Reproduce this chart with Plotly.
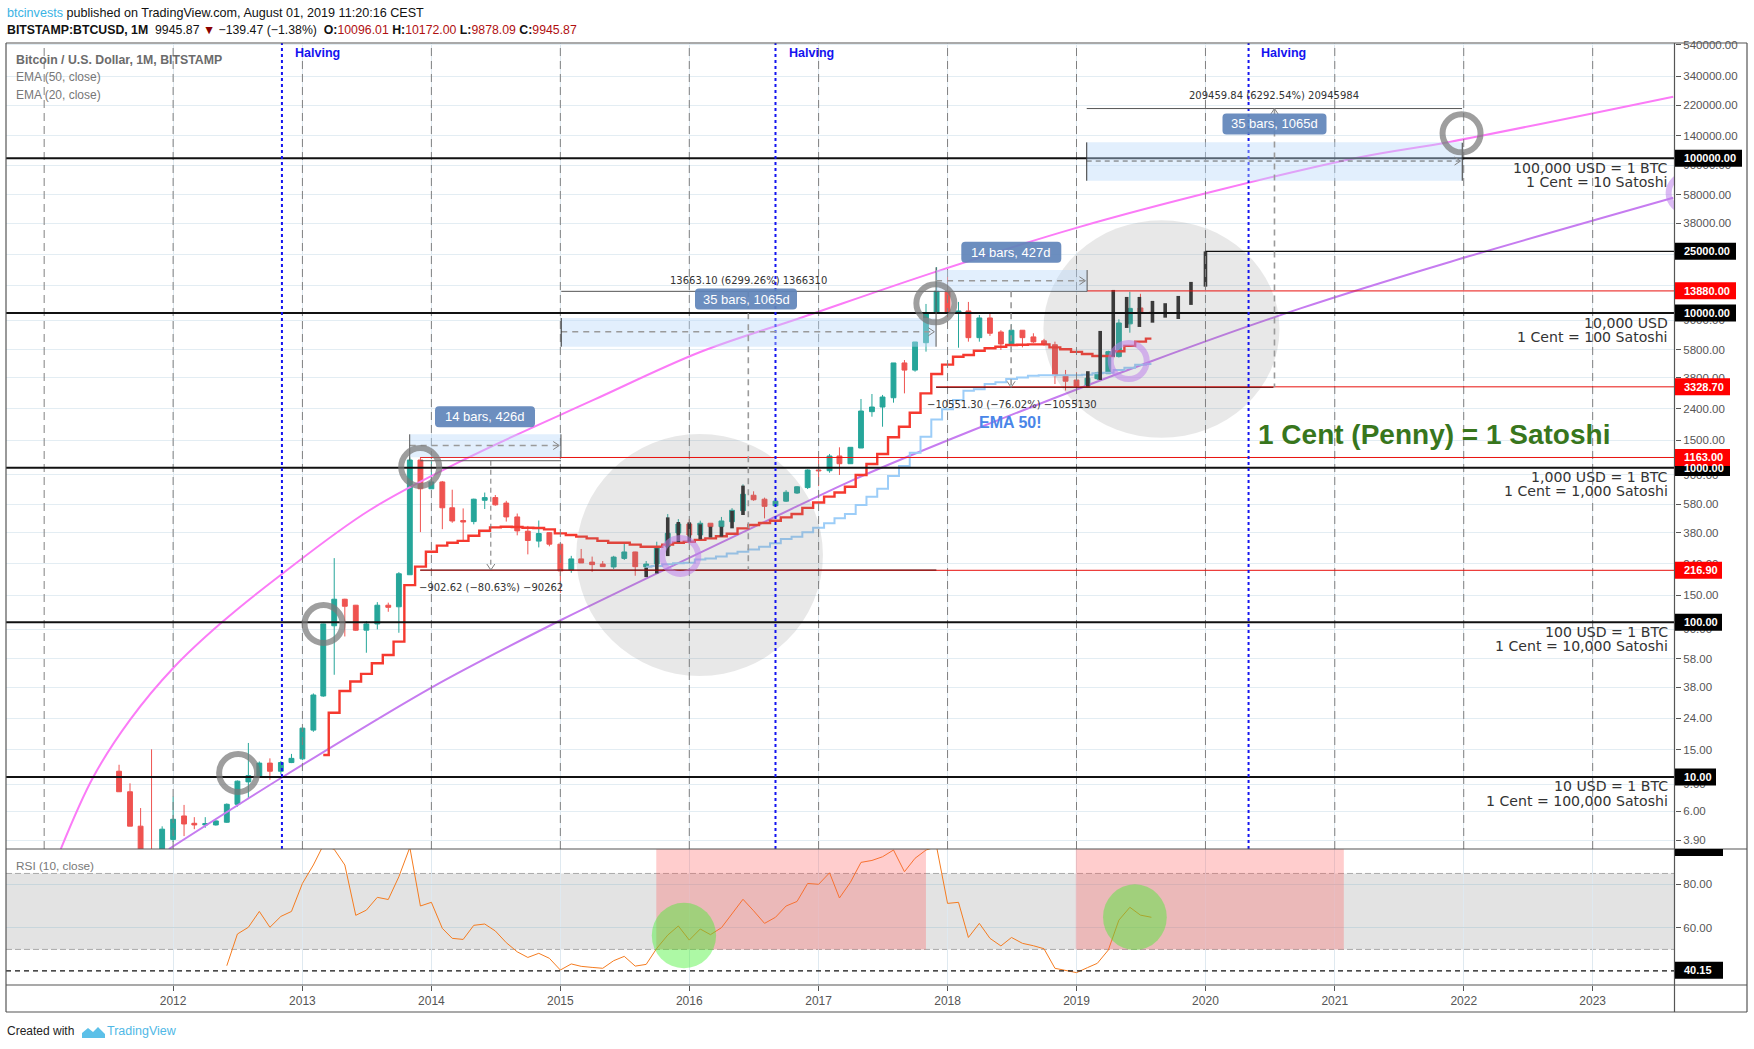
import math
from datetime import datetime, timedelta
import pandas as pd
import plotly.graph_objects as go

# ---------- data ----------
START = "2011-08-01"
opens = [10.9,8.03,4.81,3.2,3.0,
 3.95,5.6,5.02,4.9,4.9,5.1,6.66,9.3,10.05,12.3,10.9,12.4,
 13.1,20.1,33.4,95,141,129,89,97.6,129,126,203,1120,
 730,808,550,455,448,615,640,590,480,388,335,380,
 320,218,257,245,238,228,259,285,228,238,308,378,
 432,367,437,415,447,527,663,625,567,607,685,743,
 965,955,1189,1060,1339,2300,2465,2830,4750,4270,6420,9950,
 13810,9950,10300,6920,9280,7530,6300,7730,7000,6600,6230,3950,
 3684,3370,3760,4050,5220,8500,10770,10096.01]
highs = [12.0,9.1,6.3,15.1,4.8,
 7.46,6.6,5.5,5.5,5.25,6.75,9.5,16.6,12.6,13.2,12.7,14.1,
 20.9,34.7,98,260,142,129.5,102,135,134,211,1163,1163,
 1100,820,720,545,630,690,665,610,505,420,455,383,
 322,269,298,266,249,269,322,286,249,332,501,465,
 464,454,437,480,547,780,703,640,640,715,760,975,
 1131,1225,1353,1353,2778,2992,2950,4750,4960,6490,11430,19760,
 17350,11780,11780,9700,9850,7730,8440,7750,7390,6800,6520,4280,
 4135,4165,4165,5700,9100,13700,13300,10172.00]
lows = [8.0,4.81,3.2,2.3,2.9,
 3.8,4.15,4.6,4.7,4.85,5.05,6.43,7.2,9.9,9.6,10.4,12.3,
 12.9,19.6,33,45.8,81,88,63.6,90,117,85.6,203,383,
 730,400,440,340,430,540,567,448,365,275,305,310,
 155,209,242,212,229,221,253,200,226,235,300,352,
 332,371,358,415,436,501,610,470,562,600,676,727,
 760,927,896,1055,1339,2133,1838,2630,3020,4170,5620,9950,
 9380,5960,6520,6520,7100,5760,6200,5990,6400,6150,3470,3150,
 3330,3340,3690,4050,5150,7450,8150,9878.09]
closes = [8.03,4.81,3.2,3.0,4.6,
 5.33,4.97,4.9,5.0,5.2,6.66,9.4,10.2,12.3,10.9,12.4,13.2,
 20.7,33.9,97.6,141,127,88.9,97.6,129,125,206,1120,730,
 808,550,452,445,625,640,575,480,390,338,375,320,
 215,257,242,236,229,264,285,229,238,305,376,432,
 367,437,415,452,530,673,620,562,607,693,752,965,
 955,1189,1060,1353,2322,2465,2860,4750,4270,6490,10000,13810,
 9950,10300,6920,9280,7390,6300,7730,6920,6500,6250,3930,3620,
 3370,3785,4110,5620,8610,10700,10100,9945.87]

ema20_start = "2013-03-01"
ema20 = [13.87,26,36,41.4,46.4,54.4,61.5,75,174,229,
 286,313,327,336,363,391,411,415,413,409,407,399,
 376,367,358,349,336,327,327,318,308,308,318,327,
 332,341,349,360,374,405,426,439,454,477,501,549,
 595,649,690,752,896,1055,1224,1570,1838,2265,3020,4030,
 4630,5210,5350,5700,5910,6050,6200,6230,6260,6260,5990,5820,
 5600,5430,5270,5270,5650,6120,6520,6820]
ema50_start = "2015-09-01"
ema50 = [229,231,237,241,
 243,255,259,266,279,286,296,308,324,346,358,382,
 409,437,471,501,574,649,730,882,1024,1248,1584,2050,
 2380,2740,3140,3210,3470,3560,3740,3820,3930,3950,3950,3950,
 3950,3990,4070,4110,4270,4420,4630,4680]

rsi_start = "2012-06-01"
rsi = [42.5,57.1,60.2,67.5,60.2,65.2,67.5,
 80.4,88.9,98,96.1,88.9,65.7,68.1,74,73,83.5,97,70,
 71.7,59.7,55.1,54.6,61.1,61.7,58.5,53.1,48.9,46.3,48.2,45.9,
 40.5,43.3,42.2,41.7,41.3,44.8,46.8,42.3,43.1,50.5,56.6,60.8,
 54.3,59.4,56.8,60,66.6,73.1,67.8,62,64.8,70,72.1,80.4,
 80,85.3,73.7,80.9,90.1,91,92.7,95.8,85.8,92,95.8,97.3,
 71.2,71.7,55.5,62,55.1,51.6,55.5,52.8,51.7,50.3,41.3,40.3,
 39.3,41.6,43.6,49.7,63.5,69.4,65.8,64.8]

ghost1_dates = ["2015-09-01","2015-10-01","2015-11-01","2015-12-01","2016-01-01",
                "2016-02-01","2016-03-01","2016-04-01","2016-05-01","2016-06-01"]
ghost1_hi = [225,301,477,445,443,430,415,415,525,765]
ghost1_lo = [196,207,268,330,332,344,354,358,405,494]
ghost2_dates = ["2019-02-02","2019-03-09","2019-04-15","2019-05-23","2019-06-28",
                "2019-08-04","2019-09-09","2019-10-16","2019-11-21","2020-01-01"]
ghost2_hi = [4200,7650,14080,12690,12690,11960,11560,12880,15870,25000]
ghost2_lo = [3310,3684,5220,8000,8120,8650,9320,9140,11270,14790]

magenta_dates = ["2011-02-17","2011-05-20","2011-09-01","2012-01-04","2012-05-18","2012-11-06",
 "2013-07-11","2014-04-13","2015-04-05","2016-02-01","2016-11-10","2017-11-30","2019-01-03",
 "2020-02-11","2021-03-13","2021-11-25","2023-08-17"]
magenta_vals = [3.42,10,23.4,51.4,100,207,532,1154,2738,5590,9280,18500,35600,62500,101500,128000,250000]
purple_dates = ["2011-12-20","2012-11-06","2014-01-05","2015-01-03","2016-09-01","2017-04-08",
 "2018-03-15","2019-07-28","2020-09-26","2021-11-25","2023-08-17"]
purple_vals = [3.42,10,38.3,103.5,482,831,1750,4840,10700,21450,55500]

price_ticks = [3.9,6,9,15,24,38,58,90,150,240,380,580,900,1500,2400,3800,5800,9000,15000,24000,
               38000,58000,90000,140000,220000,340000,540000]
year_ticks = list(range(2012, 2024))
halvings = ["2012-11-04","2016-09-01","2020-05-02"]
black_levels = [100000,10000,1000,100,10]
red_levels = [13880,3328.7,1163,216.9]

# ---------- frame geometry ----------
W, H = 1754, 1049
L, R, T, B, PB = 6, 1675, 43, 985, 849   # plot left/right/top/bottom and price pane bottom

def py(v):
    return 931.7 - 154.7 * math.log10(v)
def dy(p):
    return 10 ** ((931.7 - p) / 154.7)
def dx(p):
    d = datetime(2012, 1, 1) + timedelta(days=(p - 173) / 129 * 365.25)
    return d.strftime("%Y-%m-%d %H:%M")
def xf(p):
    return (p - L) / (R - L)
def yf(p):
    return (B - p) / (B - T)

dates = pd.date_range(START, periods=len(opens), freq="MS")

fig = go.Figure()
fig.add_trace(go.Candlestick(x=dates, open=opens, high=highs, low=lows, close=closes,
    increasing=dict(line=dict(color="#26a69a", width=1), fillcolor="#26a69a"),
    decreasing=dict(line=dict(color="#ef5350", width=1), fillcolor="#ef5350"),
    whiskerwidth=0, xaxis="x", yaxis="y", showlegend=False))
fig.add_trace(go.Scatter(x=magenta_dates, y=magenta_vals, mode="lines", line=dict(color="#fb7bf7", width=2, shape="spline", smoothing=1.0)))
fig.add_trace(go.Scatter(x=purple_dates, y=purple_vals, mode="lines", line=dict(color="#c67cf0", width=2, shape="spline", smoothing=0.8)))
fig.add_trace(go.Scatter(x=pd.date_range(ema50_start, periods=len(ema50), freq="MS"), y=ema50, mode="lines",
                         line=dict(color="#9ccdf8", width=2, shape="hvh")))
fig.add_trace(go.Scatter(x=pd.date_range(ema20_start, periods=len(ema20), freq="MS"), y=ema20, mode="lines",
                         line=dict(color="#f5392f", width=2.4, shape="hvh")))
for ds, hi, lo in [(ghost1_dates, ghost1_hi, ghost1_lo), (ghost2_dates, ghost2_hi, ghost2_lo)]:
    gx, gy = [], []
    for d, h, l in zip(ds, hi, lo):
        gx += [d, d, None]
        gy += [l, h, None]
    fig.add_trace(go.Scatter(x=gx, y=gy, mode="lines", line=dict(color="#2b2b2b", width=3.6)))
fig.add_trace(go.Scatter(x=pd.date_range(rsi_start, periods=len(rsi), freq="MS"), y=rsi, mode="lines",
                         line=dict(color="#f57c20", width=1), xaxis="x", yaxis="y2"))

shapes = []
annos = []

def dline(x0, y0, x1, y1, color="#555", width=1, dash=None, layer="above"):
    shapes.append(dict(type="line", xref="x", yref="y", x0=dx(x0), x1=dx(x1), y0=dy(y0), y1=dy(y1), layer=layer,
                       line=dict(color=color, width=width, dash=dash or "solid")))
def drect(x0, y0, x1, y1, fill, layer="above"):
    shapes.append(dict(type="rect", xref="x", yref="y", x0=dx(x0), x1=dx(x1), y0=dy(y0), y1=dy(y1), layer=layer,
                       fillcolor=fill, line=dict(width=0)))
def dcircle(cx, cy, rx, ry, fill=None, line=None, width=0):
    s = dict(type="circle", xref="x", yref="y", x0=dx(cx-rx), x1=dx(cx+rx), y0=dy(cy+ry), y1=dy(cy-ry), layer="above")
    if fill: s["fillcolor"] = fill
    s["line"] = dict(color=line, width=width) if line else dict(width=0)
    shapes.append(s)
def pline(x0, y0, x1, y1, color="#555", width=1):
    shapes.append(dict(type="line", xref="paper", yref="paper", x0=xf(x0), x1=xf(x1), y0=yf(y0), y1=yf(y1), layer="above",
                       line=dict(color=color, width=width)))
def prect(x0, y0, x1, y1, fill):
    shapes.append(dict(type="rect", xref="paper", yref="paper", x0=xf(x0), x1=xf(x1), y0=yf(y0), y1=yf(y1), layer="above",
                       fillcolor=fill, line=dict(width=0)))
def text(x, y, t, size=12, color="#000", anchor="center", family="Liberation Sans", bg=None):
    a = dict(xref="paper", yref="paper", x=xf(x), y=yf(y), text=t, showarrow=False, xanchor=anchor, yanchor="middle",
             font=dict(size=size, color=color, family=family), borderpad=0)
    if bg: a["bgcolor"] = bg
    annos.append(a)
def round_label(cx, cy, w, h, t):
    r = 4
    x0, x1, y0, y1 = cx-w/2, cx+w/2, cy-h/2, cy+h/2
    pts = [f"M {xf(x0+r)} {yf(y0)}", f"L {xf(x1-r)} {yf(y0)}", f"Q {xf(x1)} {yf(y0)} {xf(x1)} {yf(y0+r)}",
           f"L {xf(x1)} {yf(y1-r)}", f"Q {xf(x1)} {yf(y1)} {xf(x1-r)} {yf(y1)}", f"L {xf(x0+r)} {yf(y1)}",
           f"Q {xf(x0)} {yf(y1)} {xf(x0)} {yf(y1-r)}", f"L {xf(x0)} {yf(y0+r)}", f"Q {xf(x0)} {yf(y0)} {xf(x0+r)} {yf(y0)} Z"]
    shapes.append(dict(type="path", xref="paper", yref="paper", path=" ".join(pts), fillcolor="rgba(96,132,186,0.92)",
                       line=dict(width=0), layer="above"))
    text(cx, cy, t, 13, "#ffffff")
def chevron(x, y, d):
    c, w = "#808080", 1
    if d == "r":
        dline(x-6, y-4, x, y, c, w); dline(x-6, y+4, x, y, c, w)
    elif d == "d":
        dline(x-4, y-6, x, y, c, w); dline(x+4, y-6, x, y, c, w)
    else:
        dline(x-4, y+6, x, y, c, w); dline(x+4, y+6, x, y, c, w)

# dashed yearly verticals, price pane only
for yr in range(2011, 2024):
    shapes.append(dict(type="line", xref="x", yref="y domain", x0=f"{yr}-01-01", x1=f"{yr}-01-01", y0=0, y1=1, layer="above",
                       line=dict(color="#808080", width=1, dash="8px,5px")))

# large grey discs
dcircle(699.3, 555, 123.3, 121, fill="rgba(128,128,128,0.18)")
dcircle(1161, 329, 118, 108.7, fill="rgba(128,128,128,0.18)")

# levels
for v in black_levels:
    shapes.append(dict(type="line", xref="paper", yref="y", x0=0, x1=1, y0=v, y1=v, layer="above", line=dict(color="#111", width=2)))
for v, x0 in zip(red_levels, [1086.7, 935.7, 420, 420]):
    shapes.append(dict(type="line", xref="x", yref="y", x0=dx(x0), x1=dx(R), y0=v, y1=v, layer="above", line=dict(color="#e8100c", width=1)))
shapes.append(dict(type="line", xref="x", yref="y", x0="2020-01-01", x1=dx(R), y0=25000, y1=25000, layer="above", line=dict(color="#111", width=1.3)))

# halving lines
for h in halvings:
    shapes.append(dict(type="line", xref="x", yref="y domain", x0=h, x1=h, y0=0, y1=1, layer="above",
                       line=dict(color="#1414f0", width=2, dash="3px,3px")))
for x in (317, 811, 1283):
    text(x, 53, "<b>Halving</b>", 12.5, "#1414f0")

# measurement boxes
BOX = "rgba(187,217,251,0.42)"
drect(409.5, 434.3, 560.7, 457.3, BOX)
dline(409.5, 445.5, 558, 445.5, "#9a9a9a", 1.6, "6px,5px"); chevron(559, 445.5, "r")
dline(409.5, 434.3, 409.5, 460.7); dline(560.7, 434.3, 560.7, 457.3)
dline(420, 460.7, 560.7, 460.7); dline(420, 570, 561, 570, "#5a2525")
dline(490.6, 460.7, 490.6, 570, "#777", 1, "5px,4px"); chevron(490.6, 570, "d")
round_label(485, 416.7, 100, 21, "14 bars, 426d")
text(491, 587.7, "−902.62 (−80.63%) −90262", 10, "#333", family="DejaVu Sans")

drect(561, 318, 935.7, 346.7, BOX)
dline(561, 331.7, 933, 331.7, "#9a9a9a", 1.6, "6px,5px"); chevron(934, 331.7, "r")
dline(561, 291.3, 1086.7, 291.3); dline(935.7, 267.3, 935.7, 346.7); dline(561, 318, 561, 346.7, "#333")
dline(561, 570, 936, 570, "#5a0808")
dline(748, 291.3, 748, 570, "#9a9a9a", 1.6, "6px,5px")
round_label(746, 299, 102, 21, "35 bars, 1065d")
text(748, 280, "13663.10 (6299.26%) 1366310", 10, "#333", family="DejaVu Sans")

drect(935.7, 270, 1086.7, 291.3, BOX)
dline(935.7, 280.7, 1084, 280.7, "#9a9a9a", 1.6, "6px,5px"); chevron(1085, 280.7, "r")
dline(1086.7, 270, 1086.7, 291.3)
dline(935.7, 387.3, 1273, 387.3, "#5a0808")
dline(1010.7, 291.3, 1010.7, 387.3, "#9a9a9a", 1.6, "6px,5px"); chevron(1010.7, 387.3, "d")
round_label(1011.3, 252.3, 100, 21, "14 bars, 427d")
text(1011.7, 404.3, "−10551.30 (−76.02%) −1055130", 10, "#333", family="DejaVu Sans")

drect(1086.3, 142.3, 1461.7, 180.7, BOX)
dline(1086.3, 161, 1459, 161, "#666", 1, "5px,4px"); chevron(1460, 161, "r")
dline(1086.3, 108.5, 1461.5, 108.5); dline(1086.3, 142.3, 1086.3, 180.7, "#333"); dline(1461.7, 142.7, 1461.7, 180.7, "#333")
dline(1274, 108.5, 1274, 387.3, "#9a9a9a", 1.6, "6px,5px"); chevron(1274, 108.5, "u")
round_label(1274.5, 124, 104, 21, "35 bars, 1065d")
text(1274, 96, "209459.84 (6292.54%) 20945984", 10, "#333", family="DejaVu Sans")

# rings
for cx, cy in [(238, 773), (323.4, 624), (420, 467), (935, 303.3), (1461, 133.3)]:
    dcircle(cx, cy, 19, 19, line="rgba(120,120,120,0.72)", width=6)
for cx, cy in [(680, 556), (1128.3, 361), (1686, 193)]:
    dcircle(cx, cy, 18, 18, line="rgba(190,130,235,0.55)", width=6)

# RSI pane decoration
def rsi_rect(x0, x1, v0, v1, fill):
    shapes.append(dict(type="rect", xref="x", yref="y2", x0=x0, x1=x1, y0=v0, y1=v1, fillcolor=fill, line=dict(width=0), layer="above"))
shapes.append(dict(type="rect", xref="paper", yref="y2", x0=0, x1=1, y0=50, y1=85, fillcolor="rgba(128,128,128,0.22)", line=dict(width=0), layer="below"))
for v in (50, 85):
    shapes.append(dict(type="line", xref="paper", yref="y2", x0=0, x1=1, y0=v, y1=v, layer="below", line=dict(color="#aaaaaa", width=1, dash="6px,3px")))
shapes.append(dict(type="line", xref="paper", yref="y2", x0=0, x1=1, y0=40.15, y1=40.15, layer="above", line=dict(color="#111", width=1.3, dash="5px,4px")))
rsi_rect(dx(656), dx(925.6), 50, 96.27, "rgba(255,90,90,0.30)")
rsi_rect(dx(1075.4), dx(1343.3), 50, 96.27, "rgba(255,90,90,0.30)")
for x0, x1, y0, y1 in [(651.5, 715.8, 902.7, 968.3), (1102.6, 1166.3, 884.3, 950)]:
    shapes.append(dict(type="circle", xref="x", yref="y2", x0=dx(x0), x1=dx(x1),
                       y0=60 + (927.7 - y1) / 2.17, y1=60 + (927.7 - y0) / 2.17, fillcolor="rgba(60,240,40,0.42)", line=dict(width=0), layer="above"))

# frames
for x0, y0, x1, y1 in [(L, T, 1747, T), (L, T, L, 1012), (L, 1012, 1747, 1012), (1747, T, 1747, 1012), (1674.5, T, 1674.5, 1012),
                       (L, PB, 1747, PB), (L, B, 1747, B)]:
    pline(x0, y0, x1, y1, "#555555", 1.2)

# right-axis value labels
labels = [(100000, "100000.00", "#000", 1742), (25000, "25000.00", "#000", 1736), (10000, "10000.00", "#000", 1736),
          (1000, "1000.00", "#000", 1730), (100, "100.00", "#000", 1722), (10, "10.00", "#000", 1716),
          (13880, "13880.00", "#f00", 1736), (3328.7, "3328.70", "#f00", 1730), (1163, "1163.00", "#f00", 1730),
          (216.9, "216.90", "#f00", 1722)]
for v, t, c, x1 in labels:
    y = py(v)
    prect(1675, y - 8.5, x1, y + 8.5, c)
    text(1682.5, y, f"<b>{t}</b>", 11, "#ffffff", anchor="left", family="Liberation Sans")
yr = 970.3
prect(1675, yr - 8.5, 1723, yr + 8.5, "#000")
text(1682.5, yr, "<b>40.15</b>", 11, "#ffffff", anchor="left")
prect(1675, 849, 1723, 856, "#000")

# texts
HDR = "Liberation Sans"
text(6, 13, '<span style="color:#3bb3e4">btcinvests</span> published on TradingView.com, August 01, 2019 11:20:16 CEST', 12.6, "#111", anchor="left", family=HDR)
text(6, 30, '<b>BITSTAMP:BTCUSD, 1M</b>  9945.87 <span style="color:#8b0000">▼</span> −139.47 (−1.38%)  <b>O:</b><span style="color:#b01010">10096.01</span> '
     '<b>H:</b><span style="color:#b01010">10172.00</span> <b>L:</b><span style="color:#b01010">9878.09</span> <b>C:</b><span style="color:#b01010">9945.87</span>',
     12.3, "#111", anchor="left", family=HDR)
text(15, 60, "<b>Bitcoin / U.S. Dollar, 1M, BITSTAMP</b>", 12.3, "#6b6b6b", anchor="left")
text(15, 77, "EMA (50, close)", 12, "#777", anchor="left")
text(15, 95, "EMA (20, close)", 12, "#777", anchor="left")
text(15, 866, "RSI (10, close)", 11.8, "#777", anchor="left")
text(1434, 434, "<b>1 Cent (Penny) = 1 Satoshi</b>", 28, "#38761d")
text(1010, 422, "<b>EMA 50!</b>", 16, "#4a86e8")
notes = [(168, "100,000 USD = 1 BTC"), (182, "1 Cent = 10 Satoshi"), (323, "10,000 USD"), (337, "1 Cent = 100 Satoshi"),
         (476.7, "1,000 USD = 1 BTC"), (491, "1 Cent = 1,000 Satoshi"), (632, "100 USD = 1 BTC"), (645.5, "1 Cent = 10,000 Satoshi"),
         (786.4, "10 USD = 1 BTC"), (801, "1 Cent = 100,000 Satoshi")]
for y, t in notes:
    text(1669, y, t, 14.1, "#333", anchor="right", family="DejaVu Sans")
text(6, 1031, "Created with", 12, "#222", anchor="left")
text(106, 1031, "TradingView", 12.5, "#4fb8e6", anchor="left")
logo = [(82,1038),(82,1033),(88,1028),(93,1032),(98,1027),(105,1034),(105,1038)]
shapes.append(dict(type="path", xref="paper", yref="paper", fillcolor="#5cc0e8", line=dict(width=0), layer="above",
    path="M " + " L ".join(f"{xf(a)} {yf(b)}" for a, b in logo) + " Z"))

fig.update_layout(
    width=W, height=H, margin=dict(l=L, r=W-R, t=T, b=H-B, pad=0),
    paper_bgcolor="#ffffff", plot_bgcolor="#ffffff", showlegend=False, font=dict(family="Liberation Sans", color="#555"),
    xaxis=dict(type="date", range=["2010-09-15", "2023-08-22"], anchor="y2", domain=[0, 1], rangeslider=dict(visible=False),
               tickvals=[f"{y}-01-01" for y in year_ticks], ticktext=[str(y) for y in year_ticks],
               showgrid=True, gridcolor="#dfe9f0", gridwidth=1, ticks="outside", ticklen=5, tickcolor="#555",
               tickfont=dict(size=12, color="#555"), zeroline=False, showline=False),
    yaxis=dict(type="log", range=[0.5346, 5.745], domain=[(B-PB)/(B-T), 1], anchor="x", side="right",
               tickvals=price_ticks, ticktext=["" if v in (15000, 24000) else f"{v:.2f}" for v in price_ticks],
               showgrid=True, gridcolor="#e3edf3", gridwidth=1, ticks="outside", ticklen=5, tickcolor="#555",
               tickfont=dict(size=11.5, color="#555"), zeroline=False, showline=False),
    yaxis2=dict(range=[33.6, 96.27], domain=[0, (B-PB)/(B-T)], anchor="x", side="right",
                tickvals=[60, 80], ticktext=["60.00", "80.00"], showgrid=True, gridcolor="#c8d6dc", gridwidth=1,
                ticks="outside", ticklen=5, tickcolor="#555", tickfont=dict(size=11.5, color="#555"), zeroline=False, showline=False),
    shapes=shapes, annotations=annos,
)
fig.write_html("out.html", config=dict(displayModeBar=False),
               post_script="document.body.style.margin='0';document.body.style.overflow='hidden';")
